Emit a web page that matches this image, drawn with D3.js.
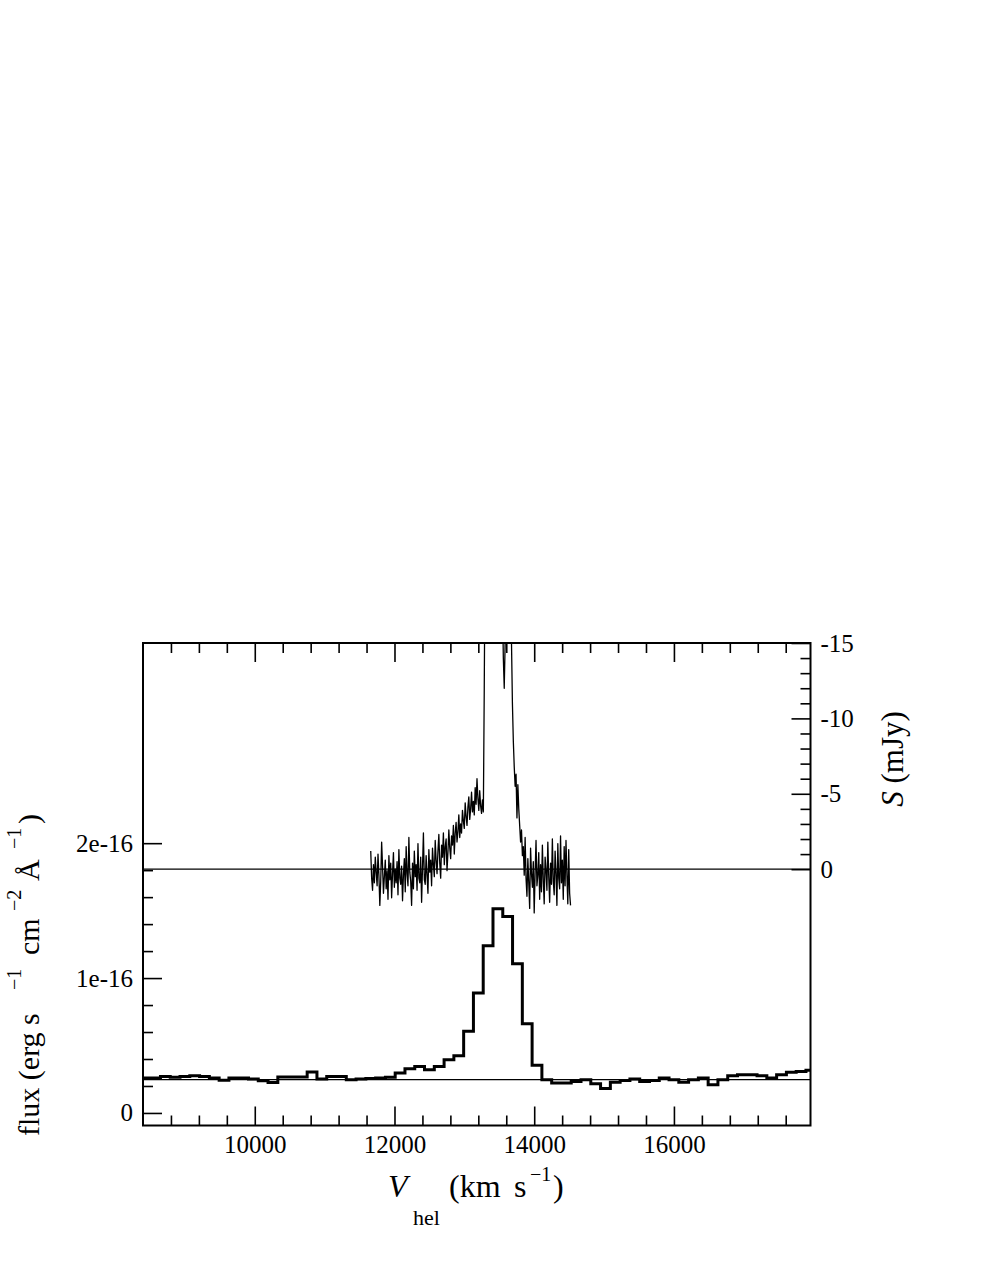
<!DOCTYPE html>
<html>
<head>
<meta charset="utf-8">
<script src="https://cdn.jsdelivr.net/npm/d3@7"></script>
<style>
  html, body { margin: 0; padding: 0; background: #fff; }
  svg { display: block; }
  text { font-family: "Liberation Serif", "DejaVu Serif", serif; fill: #000; }
</style>
</head>
<body>
<svg id="chart" width="981" height="1269"></svg>
<script>
// ---------------- DATA ----------------
// Optical spectrum: bin centre velocities (km/s) and flux (units of 1e-16 erg s^-1 cm^-2 A^-1)
const optVel = [8440, 8580, 8720, 8860, 9000, 9140, 9280, 9420, 9560, 9700,
  9840, 9980, 10120, 10260, 10400, 10540, 10680, 10820, 10960, 11100,
  11240, 11380, 11520, 11660, 11800, 11940, 12080, 12220, 12360, 12500,
  12640, 12780, 12920, 13060, 13200, 13340, 13480, 13620, 13760, 13900,
  14040, 14180, 14320, 14460, 14600, 14740, 14880, 15020, 15160, 15300,
  15440, 15580, 15720, 15860, 16000, 16140, 16280, 16420, 16560, 16700,
  16840, 16980, 17120, 17260, 17400, 17540, 17680, 17820, 17960];
const optFlux = [0.259, 0.259, 0.270, 0.265, 0.270, 0.276, 0.270, 0.259, 0.243, 0.259,
  0.259, 0.252, 0.239, 0.225, 0.267, 0.267, 0.267, 0.304, 0.252, 0.270,
  0.271, 0.247, 0.252, 0.255, 0.259, 0.264, 0.296, 0.328, 0.345, 0.321,
  0.345, 0.395, 0.424, 0.605, 0.889, 1.239, 1.513, 1.456, 1.106, 0.661,
  0.353, 0.247, 0.222, 0.222, 0.234, 0.247, 0.217, 0.182, 0.227, 0.241,
  0.252, 0.234, 0.241, 0.259, 0.247, 0.227, 0.247, 0.259, 0.210, 0.247,
  0.276, 0.284, 0.284, 0.276, 0.259, 0.284, 0.301, 0.308, 0.316];
const optBinWidth = 140;      // km/s
const optContinuum = 0.247;   // continuum level drawn as horizontal line

// HI spectrum (mJy, plotted on inverted right axis), channel grid
const hiStartVel = 11660;     // km/s
const hiChanWidth = 13;       // km/s
const hiFlux = [
  -1.2, 0.6, 1.4, -0.3, 0.9, -0.8, 0.2, 1.1, -1.0, 0.4,
  2.4, 0.8, -1.8, -0.2, 1.6, 0.5, -0.6, 1.3, 0.1, 2.0,
  -0.9, 0.7, -0.4, 1.9, 0.3, -1.1, 1.2, 0.0, 0.9, -0.5,
  1.7, -1.3, 0.6, 1.0, -0.2, 2.1, 0.4, -0.7, 1.5, -1.5,
  0.3, 1.1, -2.1, 0.2, 0.8, 2.4, -0.4, 1.3, -1.2, 0.5,
  -0.3, 1.4, -1.7, 0.6, 0.9, -0.8, 2.2, -0.1, -2.4, 0.7,
  1.0, -0.9, 0.4, 1.6, -1.3, 0.2, -0.6, 1.1, -1.4, -0.3,
  0.5, -1.9, -0.6, 0.3, -1.2, -2.3, -0.4, 0.6, -1.6, -0.8,
  -2.4, -0.3, -1.5, -2.0, 0.1, -1.1, -2.6, -1.4, -0.7, -2.2,
  -1.6, -2.9, -1.0, -2.4, -3.1, -1.8, -2.5, -3.6, -2.1, -3.0,
  -2.4, -3.9, -3.2, -2.7, -4.4, -3.5, -2.9, -4.1, -4.8, -3.3,
  -4.0, -5.1, -3.8, -4.5, -3.6, -5.4, -4.3, -6.0, -4.7, -3.9,
  -5.2, -4.2, -3.7, -4.6, -3.8, -12.0, -22.0, -27.0, -29.0, -30.0,
  -31.0, -30.0, -32.0, -31.0, -30.0, -31.0, -29.0, -30.0, -28.0, -29.0,
  -27.0, -28.0, -26.0, -25.0, -22.0, -18.0, -14.0, -12.0, -15.0, -20.0,
  -23.0, -22.0, -21.0, -20.0, -17.0, -15.0, -11.0, -8.5, -6.8, -5.5,
  -6.3, -3.4, -5.6, -4.0, -2.9, -1.8, -2.6, -0.9, -1.5, 0.4,
  -2.1, 0.6, 1.8, -0.7, 0.9, 2.6, -1.4, 0.3, 1.2, -0.5,
  2.9, 0.2, -1.9, 1.1, 0.4, -1.1, 2.0, -0.3, 1.5, -1.6,
  0.7, 2.3, -0.8, 0.1, 1.4, -1.8, 0.5, 2.2, -0.4, 1.0,
  -2.0, 0.8, 1.7, -1.2, 0.3, 2.4, -1.7, 0.6, 1.3, -2.2,
  0.9, -0.6, 2.0, -1.5, 1.1, -1.9, 0.4, 2.3, -1.3, 1.6,
  2.4];

// Axis ticks
const xMajor = [10000, 12000, 14000, 16000];
const xMinor = [8800, 9200, 9600, 10400, 10800, 11200, 11600, 12400, 12800, 13200, 13600,
  14400, 14800, 15200, 15600, 16400, 16800, 17200, 17600];
const yLeftMajor = [0, 1, 2];
const yLeftLabels = ["0", "1e-16", "2e-16"];
const yLeftMinor = [0.2, 0.4, 0.6, 0.8, 1.2, 1.4, 1.6, 1.8];
const yRightMajor = [0, -5, -10, -15];
const yRightLabels = ["0", "-5", "-10", "-15"];
const yRightMinor = [-1, -2, -3, -4, -6, -7, -8, -9, -11, -12, -13, -14];

// ---------------- LAYOUT ----------------
const L = 143, R = 810.5, T = 643, B = 1125.5;
const svg = d3.select("#chart");

const x = d3.scaleLinear().domain([8400, 17955]).range([L, R]);
const yF = d3.scaleLinear().domain([-0.093, 3.484]).range([B, T]);
const yS = d3.scaleLinear().domain([17, -15]).range([B, T]);

svg.append("defs").append("clipPath").attr("id", "plotclip")
  .append("rect").attr("x", L).attr("y", T).attr("width", R - L).attr("height", B - T);

const plot = svg.append("g").attr("clip-path", "url(#plotclip)");

// horizontal reference lines
plot.append("line").attr("x1", L).attr("x2", R)
  .attr("y1", yS(0)).attr("y2", yS(0))
  .attr("stroke", "#000").attr("stroke-width", 1.4);
plot.append("line").attr("x1", L).attr("x2", R)
  .attr("y1", yF(optContinuum)).attr("y2", yF(optContinuum))
  .attr("stroke", "#000").attr("stroke-width", 1.4);

// optical step spectrum
const optPts = optVel.map((v, i) => [v - optBinWidth / 2, optFlux[i]]);
optPts.push([optVel[optVel.length - 1] + optBinWidth / 2, optFlux[optFlux.length - 1]]);
plot.append("path")
  .attr("d", d3.line().x(d => x(d[0])).y(d => yF(d[1])).curve(d3.curveStepAfter)(optPts))
  .attr("fill", "none").attr("stroke", "#000").attr("stroke-width", 3)
  .attr("stroke-linejoin", "miter");

// HI spectrum
const hiPts = hiFlux.map((s, i) => [hiStartVel + i * hiChanWidth, s]);
plot.append("path")
  .attr("d", d3.line().x(d => x(d[0])).y(d => yS(d[1]))(hiPts))
  .attr("fill", "none").attr("stroke", "#000").attr("stroke-width", 1.3)
  .attr("stroke-linejoin", "round");

// ---------------- AXES ----------------
function styleAxis(g) {
  g.select(".domain").remove();
  g.selectAll(".tick line").attr("stroke", "#000").attr("stroke-width", 1.6);
  g.selectAll(".tick text").attr("font-family", "Liberation Serif, serif")
    .attr("font-size", 25).attr("fill", "#000");
}
// bottom
svg.append("g").attr("transform", `translate(0,${B})`)
  .call(d3.axisBottom(x).tickValues(xMajor).tickSize(-19).tickPadding(10).tickFormat(d => String(d)))
  .call(styleAxis);
svg.append("g").attr("transform", `translate(0,${B})`)
  .call(d3.axisBottom(x).tickValues(xMinor).tickSize(-10).tickFormat(""))
  .call(styleAxis);
// top
svg.append("g").attr("transform", `translate(0,${T})`)
  .call(d3.axisTop(x).tickValues(xMajor).tickSize(-19).tickFormat(""))
  .call(styleAxis);
svg.append("g").attr("transform", `translate(0,${T})`)
  .call(d3.axisTop(x).tickValues(xMinor).tickSize(-10).tickFormat(""))
  .call(styleAxis);
// left
svg.append("g").attr("transform", `translate(${L},0)`)
  .call(d3.axisLeft(yF).tickValues(yLeftMajor).tickSize(-19).tickPadding(10)
    .tickFormat((d, i) => yLeftLabels[i]))
  .call(styleAxis);
svg.append("g").attr("transform", `translate(${L},0)`)
  .call(d3.axisLeft(yF).tickValues(yLeftMinor).tickSize(-10).tickFormat(""))
  .call(styleAxis);
// right
svg.append("g").attr("transform", `translate(${R},0)`)
  .call(d3.axisRight(yS).tickValues(yRightMajor).tickSize(-19).tickPadding(10)
    .tickFormat((d, i) => yRightLabels[i]))
  .call(styleAxis);
svg.append("g").attr("transform", `translate(${R},0)`)
  .call(d3.axisRight(yS).tickValues(yRightMinor).tickSize(-10).tickFormat(""))
  .call(styleAxis);

// frame
svg.append("rect").attr("x", L).attr("y", T).attr("width", R - L).attr("height", B - T)
  .attr("fill", "none").attr("stroke", "#000").attr("stroke-width", 2);

// ---------------- TITLES ----------------
// x title: V_hel (km s^-1)
const xt = svg.append("text").attr("font-size", 32);
xt.append("tspan").attr("x", 388).attr("y", 1197).attr("font-style", "italic").text("V");
xt.append("tspan").attr("x", 413).attr("y", 1225).attr("font-size", 22).text("hel");
xt.append("tspan").attr("x", 449).attr("y", 1197).text("(km");
xt.append("tspan").attr("x", 514).attr("y", 1197).text("s");
xt.append("tspan").attr("x", 530).attr("y", 1181).attr("font-size", 20).text("\u22121");
xt.append("tspan").attr("x", 553).attr("y", 1197).text(")");

// left title: flux (erg s^-1 cm^-2 Å^-1)
const lt = svg.append("text").attr("font-size", 30)
  .attr("transform", "translate(39,1136) rotate(-90)");
lt.append("tspan").attr("x", 0).attr("y", 0).text("flux (erg s");
lt.append("tspan").attr("x", 146).attr("y", -18).attr("font-size", 20).text("\u22121");
lt.append("tspan").attr("x", 181).attr("y", 0).text("cm");
lt.append("tspan").attr("x", 225).attr("y", -18).attr("font-size", 20).text("\u22122");
lt.append("tspan").attr("x", 255).attr("y", 0).text("\u00C5");
lt.append("tspan").attr("x", 287).attr("y", -18).attr("font-size", 20).text("\u22121");
lt.append("tspan").attr("x", 312).attr("y", 0).text(")");

// right title: S (mJy)
const rt = svg.append("text").attr("font-size", 31).attr("text-anchor", "middle")
  .attr("transform", "translate(903,759) rotate(-90)");
rt.append("tspan").attr("font-style", "italic").text("S");
rt.append("tspan").text(" (mJy)");
</script>
</body>
</html>
